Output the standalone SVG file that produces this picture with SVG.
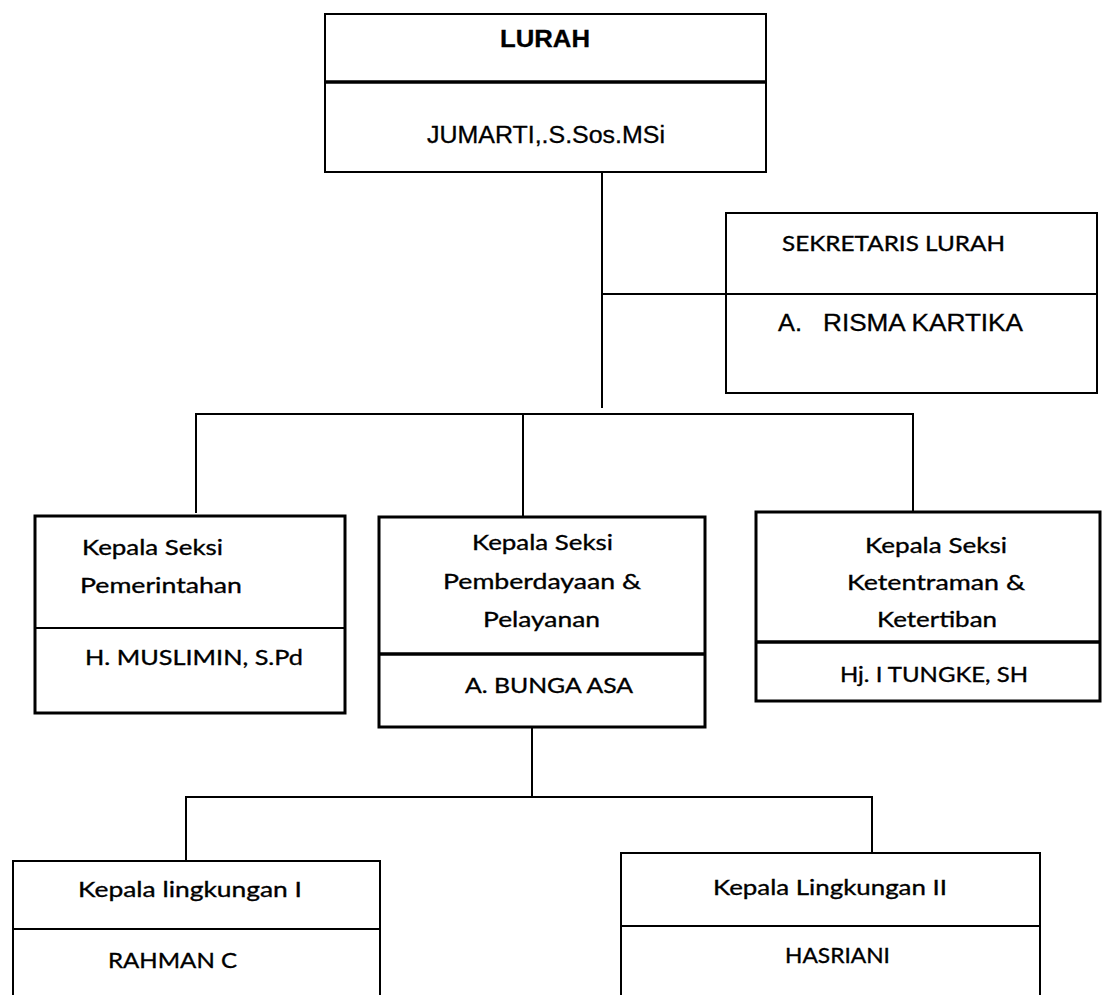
<svg xmlns="http://www.w3.org/2000/svg" width="1102" height="995" viewBox="0 0 1102 995">
<style>
.box{fill:#fff;stroke:#000;stroke-width:2}
.thick{stroke-width:3}
.div{stroke:#000;stroke-width:2}
.divt{stroke:#000;stroke-width:3.5}
.con{stroke:#000;stroke-width:2;fill:none}
.ar{font-family:"Liberation Sans",Arial,sans-serif;fill:#000;stroke:#000;stroke-width:0.3}
.cal{font-family:Lato,"Open Sans",sans-serif;fill:#000;font-size:22px;stroke:#000;stroke-width:0.35}
</style>
<rect width="1102" height="995" fill="#fff"/>
<g id="connectors">
<polyline class="con" points="602,172 602,408"/>
<polyline class="con" points="602,294 726,294"/>
<polyline class="con" points="196,513 196,414 913,414 913,512"/>
<polyline class="con" points="523,414 523,517"/>
<polyline class="con" points="532,727 532,797"/>
<polyline class="con" points="186,861 186,797 872,797 872,853"/>
</g>
<g id="lurah">
<rect class="box" x="325" y="14" width="441" height="158"/>
<line class="divt" x1="325" y1="82" x2="766" y2="82"/>
<text class="ar" x="545" y="47" font-size="24" font-weight="bold" text-anchor="middle" textLength="90" lengthAdjust="spacingAndGlyphs">LURAH</text>
<text class="ar" x="427" y="143" font-size="23" textLength="238" lengthAdjust="spacingAndGlyphs">JUMARTI,.S.Sos.MSi</text>
</g>
<g id="sekretaris">
<rect class="box" x="726" y="213" width="371" height="180"/>
<line class="div" x1="726" y1="294" x2="1097" y2="294"/>
<text class="cal" x="782" y="251" textLength="223" lengthAdjust="spacingAndGlyphs">SEKRETARIS LURAH</text>
<text class="ar" x="778" y="331" font-size="23" textLength="24" lengthAdjust="spacingAndGlyphs">A.</text>
<text class="ar" x="823" y="331" font-size="23" textLength="200" lengthAdjust="spacingAndGlyphs">RISMA KARTIKA</text>
</g>
<g id="pemerintahan">
<rect class="box thick" x="35" y="516" width="310" height="197"/>
<line class="div" x1="35" y1="628" x2="345" y2="628"/>
<text class="cal" x="82" y="555" textLength="141" lengthAdjust="spacingAndGlyphs">Kepala Seksi</text>
<text class="cal" x="80" y="593" textLength="162" lengthAdjust="spacingAndGlyphs">Pemerintahan</text>
<text class="cal" x="85" y="665" textLength="218" lengthAdjust="spacingAndGlyphs">H. MUSLIMIN, S.Pd</text>
</g>
<g id="pemberdayaan">
<rect class="box thick" x="379" y="517" width="326" height="210"/>
<line class="divt" x1="379" y1="654" x2="705" y2="654"/>
<text class="cal" x="472" y="550" textLength="141" lengthAdjust="spacingAndGlyphs">Kepala Seksi</text>
<text class="cal" x="443" y="589" textLength="198" lengthAdjust="spacingAndGlyphs">Pemberdayaan &amp;</text>
<text class="cal" x="483" y="627" textLength="117" lengthAdjust="spacingAndGlyphs">Pelayanan</text>
<text class="cal" x="465" y="693" textLength="168" lengthAdjust="spacingAndGlyphs">A. BUNGA ASA</text>
</g>
<g id="ketentraman">
<rect class="box thick" x="756" y="512" width="344" height="189"/>
<line class="divt" x1="756" y1="642" x2="1100" y2="642"/>
<text class="cal" x="865" y="553" textLength="142" lengthAdjust="spacingAndGlyphs">Kepala Seksi</text>
<text class="cal" x="847" y="590" textLength="178" lengthAdjust="spacingAndGlyphs">Ketentraman &amp;</text>
<text class="cal" x="877" y="627" textLength="120" lengthAdjust="spacingAndGlyphs">Ketertiban</text>
<text class="cal" x="840" y="682" textLength="188" lengthAdjust="spacingAndGlyphs">Hj. I TUNGKE, SH</text>
</g>
<g id="lingkungan1">
<rect class="box" x="13" y="861" width="367" height="150"/>
<line class="div" x1="13" y1="929" x2="380" y2="929"/>
<text class="cal" x="78" y="897" textLength="224" lengthAdjust="spacingAndGlyphs">Kepala lingkungan I</text>
<text class="cal" x="108" y="968" textLength="129" lengthAdjust="spacingAndGlyphs">RAHMAN C</text>
</g>
<g id="lingkungan2">
<rect class="box" x="621" y="853" width="419" height="160"/>
<line class="div" x1="621" y1="926" x2="1040" y2="926"/>
<text class="cal" x="713" y="895" textLength="234" lengthAdjust="spacingAndGlyphs">Kepala Lingkungan II</text>
<text class="cal" x="785" y="963" textLength="105" lengthAdjust="spacingAndGlyphs">HASRIANI</text>
</g>
</svg>
